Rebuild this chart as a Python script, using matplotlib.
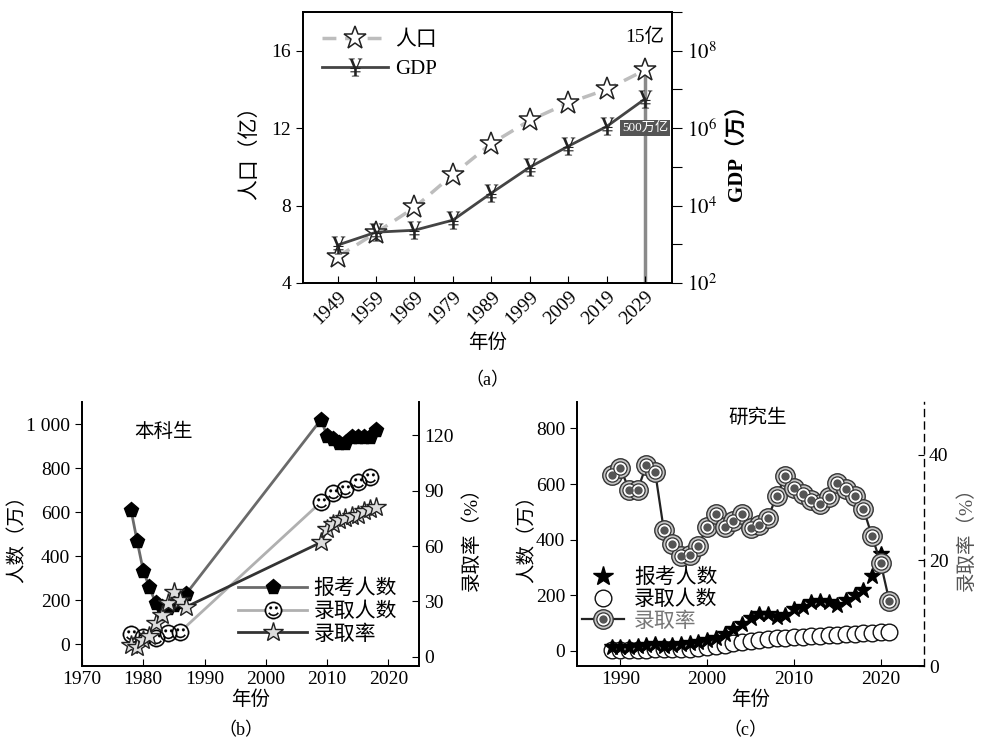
import matplotlib
matplotlib.use("Agg")
import matplotlib.pyplot as plt
import numpy as np
from matplotlib.font_manager import FontProperties
from matplotlib.path import Path
from matplotlib.textpath import TextPath
from matplotlib.legend_handler import HandlerTuple
from matplotlib.lines import Line2D

plt.rcParams["font.family"] = ["Liberation Serif", "Noto Sans CJK SC"]
plt.rcParams["mathtext.fontset"] = "stix"
plt.rcParams["axes.linewidth"] = 1.3

# (a) population and GDP
years_a = [1949, 1959, 1969, 1979, 1989, 1999, 2009, 2019, 2029]
population = [5.35, 6.6, 7.9, 9.6, 11.2, 12.4, 13.3, 14.0, 15.0]
gdp = [950, 2050, 2300, 4200, 21000, 98000, 340000, 1100000, 5700000]

# (b) undergraduate
ug_apply_years = [1978, 1979, 1980, 1981, 1982, 1983, 1984, 1985, 1986, 1987,
                  2009, 2010, 2011, 2012, 2013, 2014, 2015, 2016, 2017, 2018]
ug_apply = [610, 468, 333, 259, 187, 167, 164, 176, 191, 228,
            1020, 946, 933, 915, 912, 939, 942, 940, 940, 975]
ug_admit_years = [1978, 1980, 1982, 1984, 1986, 2009, 2011, 2013, 2015, 2017]
ug_admit = [45, 32, 28, 50, 55, 645, 685, 703, 738, 761]
ug_rate = [6.5, 5.4, 9.2, 11.5, 18.5, 22.8, 29.3, 35.3, 31, 27,
           62, 69, 72, 74, 75, 76, 77, 79, 80, 81]

# (c) postgraduate
pg_years = list(range(1989, 2022))
pg_apply_years = list(range(1989, 2021))
pg_apply = [14, 15, 13, 17, 20, 24, 18, 21, 24, 27, 32, 39, 46, 62, 80, 95,
            118, 133, 131, 122, 129, 150, 158, 176, 179, 176, 165, 183, 201,
            220, 268, 348]
pg_admit = [3, 3, 3, 4, 4, 5, 5, 6, 6, 7, 9, 13, 16, 20, 27, 33, 36, 40, 42,
            45, 47, 48, 50, 52, 54, 55, 57, 59, 61, 63, 65, 66, 68]
pg_rate = [36.2, 37.5, 33.4, 33.4, 38.1, 36.8, 25.8, 23.1, 20.9, 21.0, 22.8,
           26.4, 28.8, 26.4, 27.5, 28.8, 26.2, 26.7, 28.0, 32.2, 36.0, 33.7,
           32.6, 31.5, 30.7, 32.0, 34.7, 33.6, 32.2, 29.8, 24.6, 19.5, 12.3]


def glyph_marker(ch, family):
    tp = TextPath((0, 0), ch, size=1, prop=FontProperties(family=family))
    bb = tp.get_extents()
    verts = tp.vertices - [(bb.x0 + bb.x1) / 2, (bb.y0 + bb.y1) / 2]
    return Path(verts, tp.codes)


yen = glyph_marker("¥", "Liberation Serif")
smile = glyph_marker("☺", "DejaVu Sans")
overlay = {tuple: HandlerTuple(ndivide=1, pad=0)}

fig = plt.figure(figsize=(9.82, 7.47), dpi=100)

# ---------------- (a) ----------------
ax = fig.add_axes([0.3086, 0.6212, 0.3757, 0.3628])
ax.set_xlim(1940, 2036)
ax.set_ylim(4, 18)
ax.set_yticks([4, 8, 12, 16])
ax.set_xticks(years_a)
ax.set_xticklabels([str(y) for y in years_a], rotation=45, ha="right",
                   rotation_mode="anchor")
ax.tick_params(axis="x", direction="in", labelsize=14, length=5)
ax.tick_params(axis="y", direction="out", labelsize=14, length=5)
ax.set_ylabel("人口（亿）", fontsize=15, labelpad=8)
ax.set_xlabel("年份", fontsize=14, labelpad=4)

ax.plot([2029, 2029], [4, population[-1]], color="#8a8a8a", lw=2.5, zorder=1)
l_pop, = ax.plot(years_a, population, ls=(0, (4, 2.5)), color="#bdbdbd", lw=2.5,
                 marker="*", ms=17, mfc="white", mec="#222", mew=1.1,
                 label="人口", zorder=3)
ax.text(2034, 16.7, "15亿", fontsize=14, ha="right", va="center")

ax2 = ax.twinx()
ax2.set_yscale("log")
ax2.set_ylim(1e2, 1e9)
ax2.set_yticks([10.0 ** k for k in range(2, 10)])
ax2.set_yticklabels([r"$10^{%d}$" % k if k % 2 == 0 else "" for k in range(2, 10)])
ax2.tick_params(axis="y", which="major", direction="out", labelsize=15, length=7)
ax2.tick_params(axis="y", which="minor", direction="out", length=3)
l_gdp, = ax2.plot(years_a, gdp, color="#444444", lw=2, marker=yen, ms=13,
                  mfc="#222", mec="#222", mew=0, label="GDP", zorder=3)
ax2.text(2029, 1e6, "500万亿", fontsize=9.5, color="white", ha="center",
         va="center", bbox=dict(facecolor="#555555", edgecolor="none", pad=1.5))
ax2.set_ylabel("GDP（万）", fontsize=15, fontweight="bold", labelpad=8)

ax.legend([l_pop, l_gdp], ["人口", "GDP"], loc="upper left",
          bbox_to_anchor=(0.0, 1.0), frameon=False, fontsize=15,
          handlelength=3.2, handletextpad=0.3, labelspacing=0.45)

fig.text(0.496, 0.49, "（a）", fontsize=13, ha="center", va="center")

# ---------------- (b) ----------------
bx = fig.add_axes([0.0835, 0.1084, 0.3432, 0.3534])
bx.set_xlim(1970, 2025)
bx.set_ylim(-100, 1100)
bx.set_yticks([0, 200, 400, 600, 800, 1000])
bx.set_yticklabels(["0", "200", "400", "600", "800", "1 000"])
bx.set_xticks([1970, 1980, 1990, 2000, 2010, 2020])
bx.tick_params(axis="x", direction="in", labelsize=14, length=5)
bx.tick_params(axis="y", direction="out", labelsize=14, length=5)
bx.spines["top"].set_visible(False)
bx.set_ylabel("人数（万）", fontsize=14, labelpad=0)
bx.set_xlabel("年份", fontsize=14, labelpad=2)
bx.text(1978.5, 940, "本科生", fontsize=14)

b_apply, = bx.plot(ug_apply_years, ug_apply, color="#6a6a6a", lw=2,
                   marker="p", ms=11, mfc="black", mec="black", zorder=3)
b_admit_line, = bx.plot(ug_admit_years, ug_admit, color="#b0b0b0", lw=2, zorder=2)
b_admit_bg, = bx.plot(ug_admit_years, ug_admit, ls="none", marker="o", ms=11,
                      mfc="white", mec="none", zorder=4)
b_admit, = bx.plot(ug_admit_years, ug_admit, ls="none", marker=smile, ms=15,
                   mfc="black", mec="black", mew=0.2, zorder=5)

bx2 = bx.twinx()
bx2.set_ylim(-5, 138)
bx2.set_yticks([0, 30, 60, 90, 120])
bx2.tick_params(axis="y", direction="in", labelsize=14, length=5)
bx2.spines["top"].set_visible(False)
bx2.set_ylabel("录取率（%）", fontsize=14, labelpad=6)
b_rate, = bx2.plot(ug_apply_years, ug_rate, color="#333333", lw=2,
                   marker="*", ms=15, mfc="#dddddd", mec="#222", mew=1.0,
                   zorder=3)

h_admit = (b_admit_line, b_admit_bg, b_admit)
bx2.legend([b_apply, h_admit, b_rate], ["报考人数", "录取人数", "录取率"],
           handler_map=overlay,
           loc="lower right", bbox_to_anchor=(0.99, 0.01), frameon=False,
           fontsize=15, handlelength=3.3, handletextpad=0.3, labelspacing=0.15)

fig.text(0.245, 0.022, "（b）", fontsize=13, ha="center", va="center")

# ---------------- (c) ----------------
cx = fig.add_axes([0.5876, 0.1084, 0.3534, 0.3534])
cx.set_xlim(1985, 2025)
cx.set_ylim(-55, 895)
cx.set_yticks([0, 200, 400, 600, 800])
cx.set_xticks([1990, 2000, 2010, 2020])
cx.tick_params(axis="x", direction="in", labelsize=14, length=5)
cx.tick_params(axis="y", direction="out", labelsize=14, length=5)
cx.spines["top"].set_visible(False)
cx.spines["right"].set_visible(False)
cx.set_ylabel("人数（万）", fontsize=14, labelpad=0)
cx.set_xlabel("年份", fontsize=14, labelpad=2)
cx.text(2002.5, 820, "研究生", fontsize=14)

c_admit, = cx.plot(pg_years, pg_admit, ls="none", marker="o", ms=12,
                   mfc="white", mec="#111", mew=1.0, zorder=3)
c_apply, = cx.plot(pg_apply_years, pg_apply, ls="none", marker="*", ms=12,
                   mfc="black", mec="black", zorder=4)

cx2 = cx.twinx()
cx2.set_ylim(0, 50)
cx2.set_yticks([0, 20, 40])
cx2.tick_params(axis="y", direction="in", labelsize=14, length=4)
cx2.spines["top"].set_visible(False)
cx2.spines["right"].set_linestyle((0, (5, 4)))
cx2.spines["right"].set_linewidth(1.0)
cx2.set_ylabel("录取率（%）", fontsize=14, color="#555555", labelpad=6)
c_rate_line, = cx2.plot(pg_years, pg_rate, color="#222222", lw=1.6, zorder=2)
c_rate_o, = cx2.plot(pg_years, pg_rate, ls="none", marker="o", ms=14,
                     mfc="#c4c4c4", mec="#333", mew=1.0, zorder=3)
c_rate_i, = cx2.plot(pg_years, pg_rate, ls="none", marker="o", ms=9.5,
                     mfc="white", mec="#333", mew=0.9, zorder=4)
c_rate_d, = cx2.plot(pg_years, pg_rate, ls="none", marker="o", ms=6,
                     mfc="#555555", mec="none", zorder=5)

h_apply = Line2D([], [], ls="none", marker="*", ms=15, mfc="black", mec="black")
h_admit_c = Line2D([], [], ls="none", marker="o", ms=12, mfc="white",
                   mec="#111", mew=1.0)
h_rate = (c_rate_line, c_rate_o, c_rate_i, c_rate_d)
leg = cx2.legend([h_apply, h_admit_c, h_rate], ["报考人数", "录取人数", "录取率"],
                 handler_map=overlay,
                 loc="upper left", bbox_to_anchor=(-0.04, 0.44), frameon=False,
                 fontsize=15, handlelength=2.0, handletextpad=0.5,
                 labelspacing=0.1)
leg.get_texts()[2].set_color("#777777")

fig.text(0.759, 0.022, "（c）", fontsize=13, ha="center", va="center")

fig.savefig("out.png", dpi=100)
